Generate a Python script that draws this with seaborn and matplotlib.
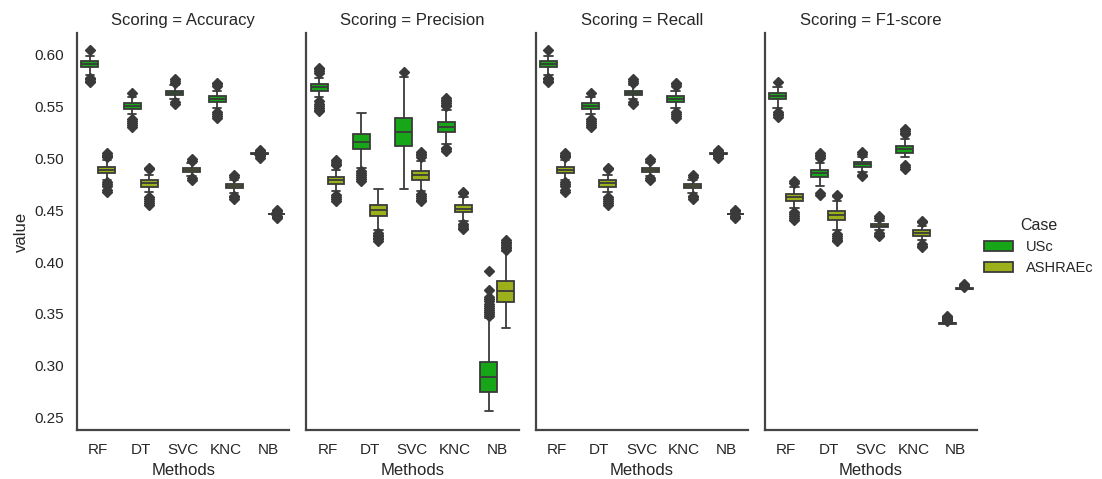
import matplotlib
matplotlib.use("Agg")
import matplotlib.pyplot as plt
import pandas as pd
import seaborn as sns

# ---------------- data ----------------
methods = ["RF", "DT", "SVC", "KNC", "NB"]
cases = ["USc", "ASHRAEc"]
scorings = ["Accuracy", "Precision", "Recall", "F1-score"]

# Accuracy - USc
acc_usc_lo = [0.5805, 0.5425, 0.5570, 0.5490, 0.5038]
acc_usc_q1 = [0.5885, 0.5475, 0.5615, 0.5545, 0.5043]
acc_usc_md = [0.5915, 0.5505, 0.5635, 0.5576, 0.5045]
acc_usc_q3 = [0.5945, 0.5535, 0.5655, 0.5605, 0.5048]
acc_usc_hi = [0.5990, 0.5590, 0.5705, 0.5655, 0.5052]
acc_usc_fl = [[0.5780, 0.5765, 0.5750, 0.5735, 0.6045],
              [0.5380, 0.5360, 0.5340, 0.5320, 0.5305, 0.5635],
              [0.5545, 0.5525, 0.5725, 0.5745, 0.5765],
              [0.5445, 0.5425, 0.5405, 0.5390, 0.5700, 0.5715, 0.5725],
              [0.5005, 0.5020, 0.5030, 0.5060, 0.5070, 0.5080]]
# Accuracy - ASHRAEc
acc_ash_lo = [0.4790, 0.4675, 0.4835, 0.4670, 0.4455]
acc_ash_q1 = [0.4862, 0.4728, 0.4872, 0.4715, 0.4460]
acc_ash_md = [0.4891, 0.4759, 0.4890, 0.4735, 0.4462]
acc_ash_q3 = [0.4920, 0.4790, 0.4910, 0.4755, 0.4465]
acc_ash_hi = [0.4985, 0.4845, 0.4955, 0.4795, 0.4470]
acc_ash_fl = [[0.4770, 0.4750, 0.4730, 0.4700, 0.4675, 0.5010, 0.5020, 0.5035, 0.5050],
              [0.4630, 0.4610, 0.4590, 0.4570, 0.4550, 0.4895, 0.4910],
              [0.4810, 0.4790, 0.4975, 0.4995],
              [0.4640, 0.4625, 0.4610, 0.4825, 0.4840],
              [0.4425, 0.4435, 0.4445, 0.4478, 0.4490, 0.4500]]

# Precision - USc
pre_usc_lo = [0.5590, 0.4905, 0.4710, 0.5135, 0.2560]
pre_usc_q1 = [0.5655, 0.5095, 0.5120, 0.5258, 0.2745]
pre_usc_md = [0.5689, 0.5158, 0.5260, 0.5303, 0.2888]
pre_usc_q3 = [0.5718, 0.5235, 0.5395, 0.5350, 0.3035]
pre_usc_hi = [0.5780, 0.5440, 0.5790, 0.5465, 0.3465]
pre_usc_fl = [[0.5550, 0.5530, 0.5510, 0.5490, 0.5470, 0.5455, 0.5825, 0.5840, 0.5860, 0.5875],
              [0.4880, 0.4860, 0.4840, 0.4820, 0.4800, 0.4780],
              [0.5835],
              [0.5105, 0.5090, 0.5075, 0.5505, 0.5520, 0.5535, 0.5550, 0.5565, 0.5580],
              [0.3480, 0.3500, 0.3520, 0.3540, 0.3560, 0.3580, 0.3600, 0.3620,
               0.3640, 0.3660, 0.3735, 0.3910]]
# Precision - ASHRAEc
pre_ash_lo = [0.4690, 0.4305, 0.4685, 0.4400, 0.3365]
pre_ash_q1 = [0.4758, 0.4448, 0.4795, 0.4480, 0.3617]
pre_ash_md = [0.4795, 0.4505, 0.4836, 0.4515, 0.3718]
pre_ash_q3 = [0.4825, 0.4555, 0.4880, 0.4552, 0.3815]
pre_ash_hi = [0.4890, 0.4705, 0.4980, 0.4630, 0.4105]
pre_ash_fl = [[0.4645, 0.4625, 0.4605, 0.4585, 0.4935, 0.4950, 0.4970, 0.4985],
              [0.4280, 0.4265, 0.4250, 0.4235, 0.4220, 0.4205],
              [0.4660, 0.4640, 0.4620, 0.4600, 0.4585, 0.5015, 0.5030, 0.5045, 0.5060],
              [0.4370, 0.4350, 0.4330, 0.4315, 0.4665, 0.4680],
              [0.4120, 0.4135, 0.4150, 0.4165, 0.4180, 0.4195, 0.4210]]

# Recall (weighted) - identical to accuracy in the chart
rec_usc_lo, rec_usc_q1, rec_usc_md, rec_usc_q3, rec_usc_hi, rec_usc_fl = (
    acc_usc_lo, acc_usc_q1, acc_usc_md, acc_usc_q3, acc_usc_hi, acc_usc_fl)
rec_ash_lo, rec_ash_q1, rec_ash_md, rec_ash_q3, rec_ash_hi, rec_ash_fl = (
    acc_ash_lo, acc_ash_q1, acc_ash_md, acc_ash_q3, acc_ash_hi, acc_ash_fl)

# F1-score - USc
f1_usc_lo = [0.5490, 0.4730, 0.4870, 0.5010, 0.3400]
f1_usc_q1 = [0.5574, 0.4825, 0.4922, 0.5053, 0.3407]
f1_usc_md = [0.5605, 0.4859, 0.4945, 0.5091, 0.3410]
f1_usc_q3 = [0.5635, 0.4890, 0.4970, 0.5125, 0.3413]
f1_usc_hi = [0.5694, 0.4955, 0.5015, 0.5190, 0.3418]
f1_usc_fl = [[0.5445, 0.5430, 0.5415, 0.5400, 0.5735],
             [0.4665, 0.4645, 0.5000, 0.5020, 0.5035, 0.5050],
             [0.4845, 0.4830, 0.5045, 0.5060],
             [0.4935, 0.4915, 0.4895, 0.5235, 0.5250, 0.5265, 0.5280],
             [0.3430, 0.3440, 0.3450, 0.3460, 0.3470, 0.3480]]
# F1-score - ASHRAEc
f1_ash_lo = [0.4520, 0.4305, 0.4310, 0.4215, 0.3738]
f1_ash_q1 = [0.4592, 0.4407, 0.4335, 0.4255, 0.3742]
f1_ash_md = [0.4624, 0.4457, 0.4350, 0.4280, 0.3745]
f1_ash_q3 = [0.4658, 0.4497, 0.4365, 0.4305, 0.3748]
f1_ash_hi = [0.4720, 0.4590, 0.4395, 0.4345, 0.3752]
f1_ash_fl = [[0.4485, 0.4465, 0.4445, 0.4425, 0.4410, 0.4765, 0.4780],
             [0.4270, 0.4250, 0.4230, 0.4215, 0.4200, 0.4635, 0.4650],
             [0.4280, 0.4265, 0.4250, 0.4425, 0.4440],
             [0.4175, 0.4160, 0.4145, 0.4385, 0.4400],
             [0.3760, 0.3770, 0.3780, 0.3790]]

usc_color = "#17a617"
ash_color = "#9bb01b"
line_color = "#3a3a3a"

# ---------------- build long table reproducing the box statistics ----------------
table = {
    ("Accuracy", "USc"): (acc_usc_lo, acc_usc_q1, acc_usc_md, acc_usc_q3, acc_usc_hi, acc_usc_fl),
    ("Accuracy", "ASHRAEc"): (acc_ash_lo, acc_ash_q1, acc_ash_md, acc_ash_q3, acc_ash_hi, acc_ash_fl),
    ("Precision", "USc"): (pre_usc_lo, pre_usc_q1, pre_usc_md, pre_usc_q3, pre_usc_hi, pre_usc_fl),
    ("Precision", "ASHRAEc"): (pre_ash_lo, pre_ash_q1, pre_ash_md, pre_ash_q3, pre_ash_hi, pre_ash_fl),
    ("Recall", "USc"): (rec_usc_lo, rec_usc_q1, rec_usc_md, rec_usc_q3, rec_usc_hi, rec_usc_fl),
    ("Recall", "ASHRAEc"): (rec_ash_lo, rec_ash_q1, rec_ash_md, rec_ash_q3, rec_ash_hi, rec_ash_fl),
    ("F1-score", "USc"): (f1_usc_lo, f1_usc_q1, f1_usc_md, f1_usc_q3, f1_usc_hi, f1_usc_fl),
    ("F1-score", "ASHRAEc"): (f1_ash_lo, f1_ash_q1, f1_ash_md, f1_ash_q3, f1_ash_hi, f1_ash_fl),
}


def sample_for(lo, q1, md, q3, hi, fl, reps=40):
    low = [f for f in fl if f < md]
    high = [f for f in fl if f > md]
    return low + [lo] + [q1] * reps + [md] * reps + [q3] * reps + [hi] + high


rows = []
for (sc, case), (lo, q1, md, q3, hi, fl) in table.items():
    for i, m in enumerate(methods):
        for v in sample_for(lo[i], q1[i], md[i], q3[i], hi[i], fl[i]):
            rows.append({"Scoring": sc, "Case": case, "Methods": m, "value": v})
df = pd.DataFrame(rows)

# ---------------- plot ----------------
sns.set_theme(context="notebook", style="white")
plt.rcParams["font.family"] = ["Liberation Sans", "DejaVu Sans"]

g = sns.catplot(
    data=df, x="Methods", y="value", hue="Case", col="Scoring", kind="box",
    order=methods, hue_order=cases, col_order=scorings,
    palette=[usc_color, ash_color], saturation=1,
    linecolor=line_color, linewidth=1.3, fliersize=5.5,
    flierprops=dict(marker="D", markerfacecolor=line_color, markeredgecolor=line_color),
    height=4, aspect=0.5, sharey=True,
)
g.figure.set_size_inches(11.02, 4.79)
g.set(ylim=(0.238, 0.621))
g.figure.subplots_adjust(left=0.0699, right=0.8866, top=0.931, bottom=0.1023, wspace=0.08)
for ax in g.axes.flat:
    for sp in ax.spines.values():
        sp.set_color("#444444")
        sp.set_linewidth(1.6)
sns.move_legend(g, "center left", bbox_to_anchor=(0.881, 0.485), frameon=False,
                fontsize=10.5, title_fontsize=11.5, handletextpad=0.9)
g.figure.savefig("out.png", dpi=100)
